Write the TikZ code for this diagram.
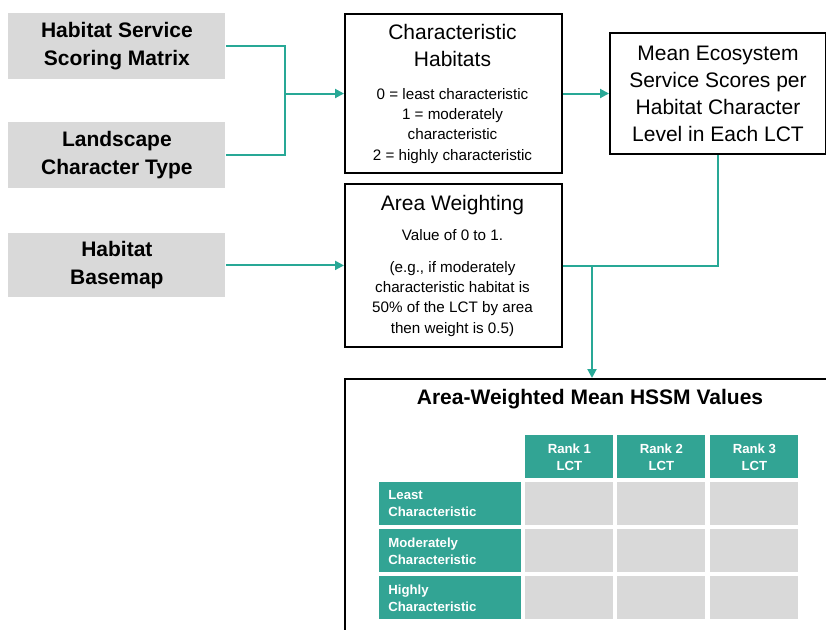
\documentclass[tikz,border=0pt]{standalone}
\usepackage{fontspec}
\setmainfont{Liberation Sans}
\usetikzlibrary{arrows.meta, positioning, calc}

\definecolor{boxgray}{RGB}{217,217,217}
\definecolor{tealline}{RGB}{40,168,150}
\definecolor{tealfill}{RGB}{50,164,148}

\begin{document}
\begin{tikzpicture}[x=0.5pt, y=-0.5pt,
    every node/.style={inner sep=0pt, align=center},
    srcbox/.style={fill=boxgray, minimum width=108.5pt, minimum height=33pt,
        font=\bfseries\fontsize{10.5}{14}\selectfont, anchor=north west},
    procbox/.style={draw=black, line width=1pt, minimum width=108.5pt, anchor=north west},
    boxtitle/.style={font=\fontsize{10.5}{13.5}\selectfont, anchor=north},
    boxbody/.style={font=\fontsize{7.6}{10.1}\selectfont, anchor=north},
    link/.style={draw=tealline, line width=1pt},
    arrow/.style={link, -{Triangle[length=4.5pt, width=4.5pt]}},
    headcell/.style={fill=tealfill, text=white, minimum width=44pt, minimum height=21.5pt,
        font=\bfseries\fontsize{6.6}{8.5}\selectfont, anchor=north west},
    rowcell/.style={fill=tealfill, text=white, minimum width=71pt, minimum height=21.5pt,
        text width=62pt, align=left, font=\bfseries\fontsize{6.6}{8.5}\selectfont, anchor=north west},
    datacell/.style={fill=boxgray, minimum width=44pt, minimum height=21.5pt, anchor=north west}
]
\useasboundingbox (0,0) rectangle (826,629);

% Input layers
\node[srcbox] (hssm) at (8,13) {Habitat Service\\Scoring Matrix};
\node[srcbox] (lct) at (8,122) {Landscape\\Character Type};
\node[srcbox, minimum height=32pt] (basemap) at (8,233) {Habitat\\Basemap};

% Characteristic habitats
\node[procbox, minimum height=79.5pt] (charhab) at (344,13) {};
\node[boxtitle] (charhabtitle) at (452.5,24) {Characteristic\\Habitats};
\node[boxbody] (charhabbody) at (452.5,88) {0 = least characteristic\\1 = moderately\\characteristic\\2 = highly characteristic};

% Area weighting
\node[procbox, minimum height=81.5pt] (areaweight) at (344,183) {};
\node[boxtitle] (areaweighttitle) at (452.5,195) {Area Weighting};
\node[boxbody] (areaweightvalue) at (452.5,229) {Value of 0 to 1.};
\node[boxbody] (areaweightnote) at (452.5,261) {(e.g., if moderately\\characteristic habitat is\\50\% of the LCT by area\\then weight is 0.5)};

% Mean scores
\node[procbox, minimum width=108pt, minimum height=60.5pt,
    font=\fontsize{10.5}{13.5}\selectfont] (meanscores) at (609,32)
    {Mean Ecosystem\\Service Scores per\\Habitat Character\\Level in Each LCT};

% Output table
\node[procbox, minimum width=260pt, minimum height=140pt] (results) at (344,378) {};
\node[font=\bfseries\fontsize{10.5}{13.5}\selectfont, anchor=north] (resultstitle) at (590,389)
    {Area-Weighted Mean HSSM Values};

\node[headcell] (rankone) at (525,435) {Rank 1\\LCT};
\node[headcell] (ranktwo) at (617,435) {Rank 2\\LCT};
\node[headcell] (rankthree) at (710,435) {Rank 3\\LCT};

\node[rowcell] (least) at (379,482) {Least\\Characteristic};
\node[rowcell] (moderate) at (379,529) {Moderately\\Characteristic};
\node[rowcell] (highly) at (379,576) {Highly\\Characteristic};

\node[datacell] (leastone) at (525,482) {};
\node[datacell] (leasttwo) at (617,482) {};
\node[datacell] (leastthree) at (710,482) {};
\node[datacell] (moderateone) at (525,529) {};
\node[datacell] (moderatetwo) at (617,529) {};
\node[datacell] (moderatethree) at (710,529) {};
\node[datacell] (highlyone) at (525,576) {};
\node[datacell] (highlytwo) at (617,576) {};
\node[datacell] (highlythree) at (710,576) {};

% Connectors
\coordinate (merge) at ($(charhab.west)+(-59,0)$);
\draw[link] (hssm.east) -| (merge);
\draw[link] (lct.east) -| (merge);
\draw[arrow] (merge) -- (charhab.west);
\draw[arrow] (charhab.east) -- (charhab.east -| meanscores.west);
\draw[arrow] (basemap.east) -- (basemap.east -| areaweight.west);
\draw[link] (meanscores.south) |- (areaweight.east);
\coordinate (split) at ($(areaweight.east)+(29,0)$);
\draw[arrow] (split) -- (split |- results.north);

\end{tikzpicture}
\end{document}
